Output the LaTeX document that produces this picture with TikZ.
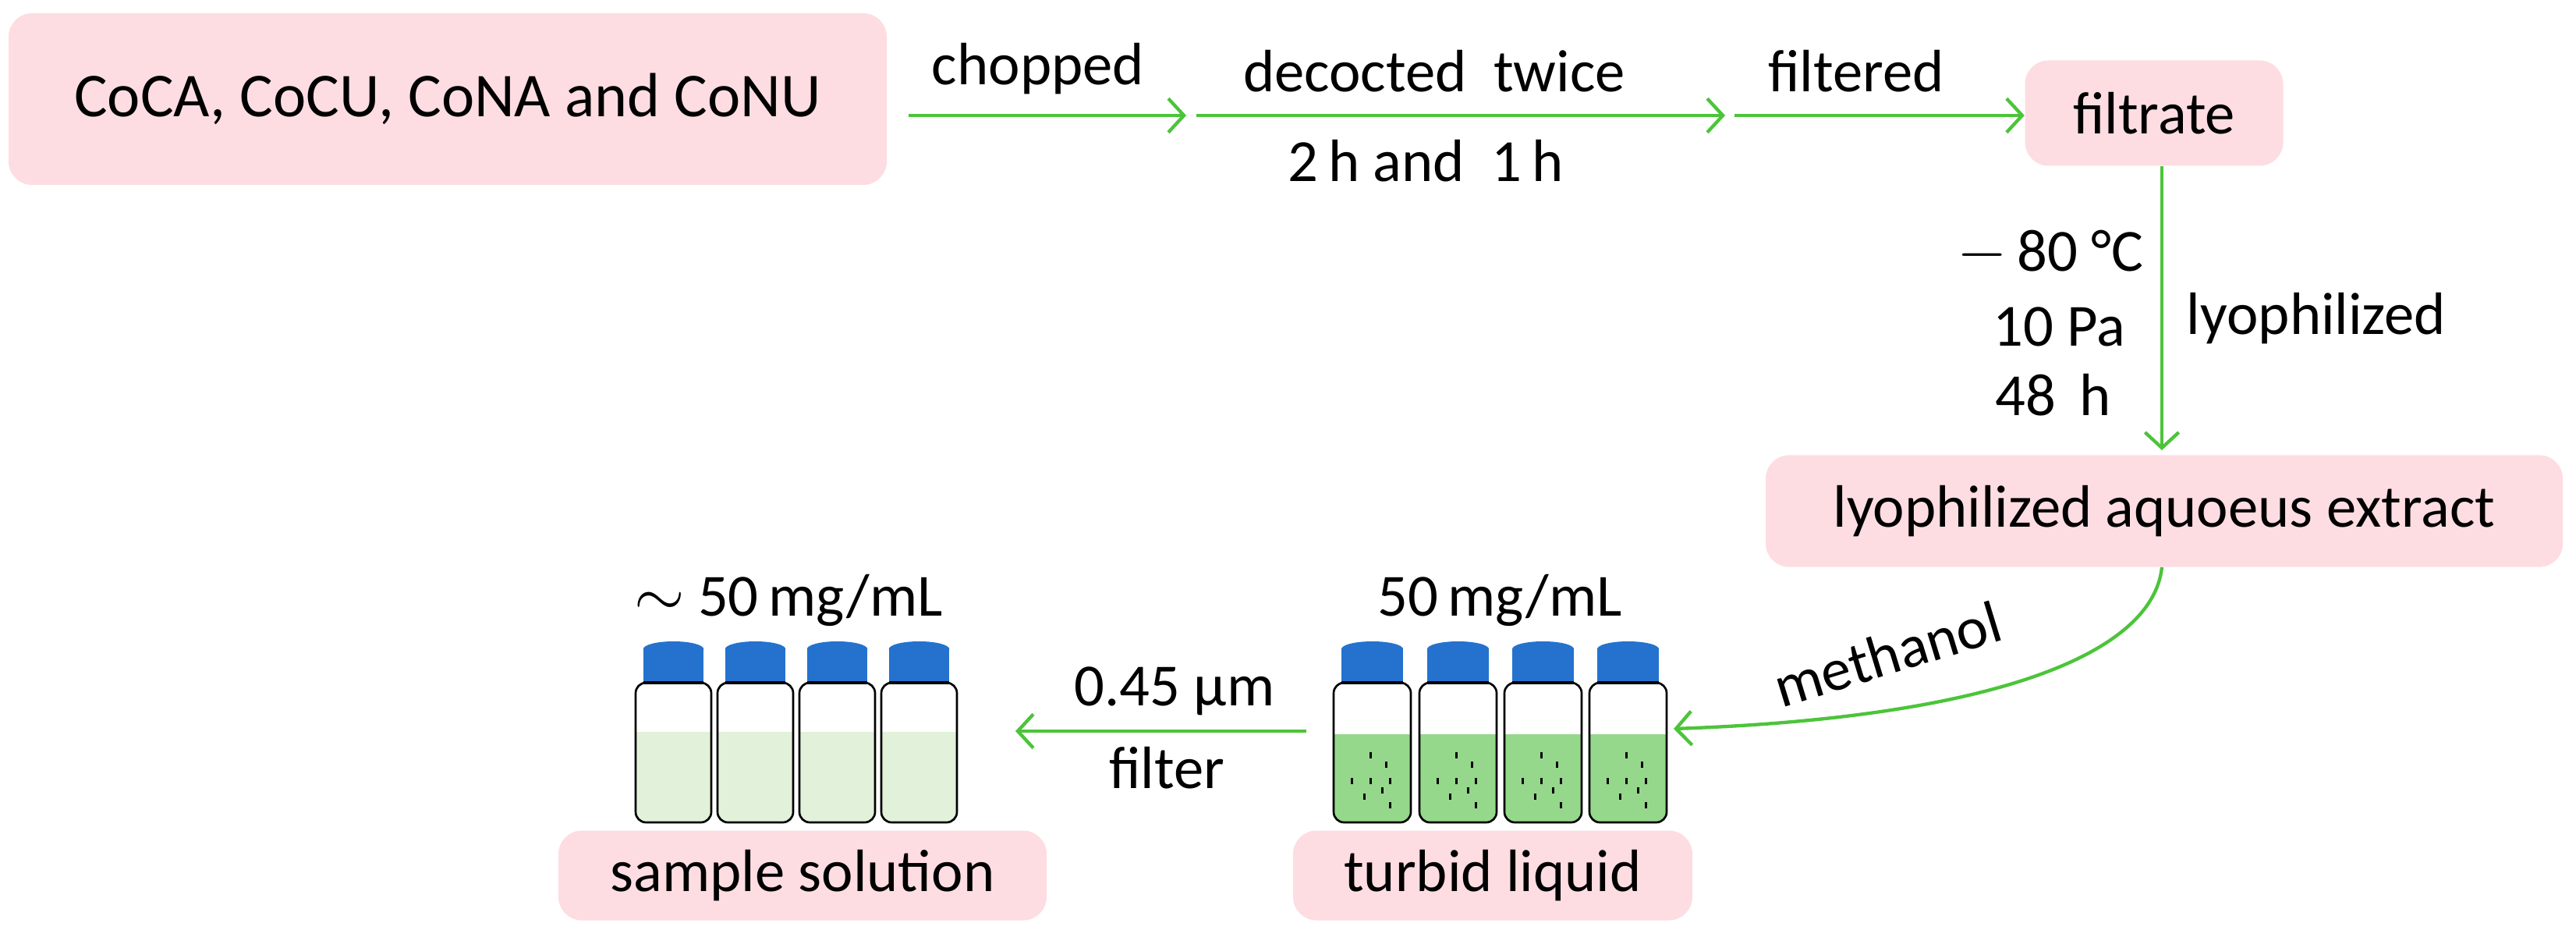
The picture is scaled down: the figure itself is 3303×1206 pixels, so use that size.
\documentclass[tikz,border=0pt]{standalone}
\usepackage{fontspec}
\setmainfont{Carlito}
\usetikzlibrary{arrows.meta}
\definecolor{boxpink}{HTML}{FDDDE2}
\definecolor{arrgreen}{HTML}{4CC43A}
\definecolor{capblue}{HTML}{2472CE}
\definecolor{liqdark}{HTML}{95D88B}
\definecolor{liqlight}{HTML}{E1F1DA}
\newcommand\myvial[4]{% x, width, liquid top, colour
  \begin{scope}
    \clip[rounded corners=4pt] (#1,875) rectangle ++(#2,179);
    \fill[#4] (#1,#3) rectangle (#1+#2,1054);
  \end{scope}
  \draw[line width=0.8pt,rounded corners=4pt] (#1,875) rectangle ++(#2,179);
  \fill[capblue] (#1+0.1*#2,832) rectangle (#1+0.9*#2,875);
  \fill[capblue] (#1+0.5*#2,832) ellipse [x radius=0.4*#2, y radius=10];
  \draw[line width=1pt] (#1+0.1*#2,875) -- (#1+0.9*#2,875);
}
\newcommand\mydots[1]{%
  \foreach \dx/\dy in {47/968,67/980,23/1001,47/1001,72/1001,62/1013,39/1021,72/1032}
    \fill (#1+\dx-1.5,\dy-4) rectangle ++(3,8);
}
\begin{document}
\begin{tikzpicture}[x=0.3pt,y=-0.3pt,
  box/.style={fill=boxpink,rounded corners=9pt,inner sep=0pt,font=\fontsize{23}{27}\selectfont},
  lab/.style={font=\fontsize{23}{27}\selectfont,inner sep=0pt},
  arr/.style={draw=arrgreen,line width=1.3pt,-{Straight Barb[length=6pt,width=13pt,line width=1.3pt]}}]
\useasboundingbox (0,0) rectangle (3303,1206);
\node[box,minimum width=337.8pt,minimum height=66pt,font=\fontsize{24}{28}\selectfont] (src) at (574,127) {CoCA, CoCU, CoNA and CoNU};
\node[box,minimum width=99.3pt,minimum height=40.5pt] (filt) at (2762,145) {filtrate};
\node[box,minimum width=306.6pt,minimum height=43pt] (lyo) at (2775,655) {lyophilized aquoeus extract};
\node[box,minimum width=153.6pt,minimum height=34.5pt] (turb) at (1914,1122) {turbid liquid};
\node[box,minimum width=187.8pt,minimum height=34.5pt] (samp) at (1029,1122) {sample solution};
\coordinate (a1) at (1165,148);
\coordinate (a2) at (1521,148);
\coordinate (a3) at (1534,148);
\coordinate (a4) at (2212,148);
\coordinate (a5) at (2224,148);
\draw[arr] (a1) -- (a2);
\draw[arr] (a3) -- (a4);
\draw[arr] (a5) -- (filt.west|-a5);
\node[lab] (l1) at (1331,88) {chopped};
\node[lab] (l2) at (1839,91) {decocted\ \ twice};
\node[lab] (l3) at (1828,206) {2\,h and\ \ 1\,h};
\node[lab] (l4) at (2380,91) {filtered};
\coordinate (v1) at (2772,213);
\coordinate (v2) at (2772,577);
\draw[arr] (v1) -- (v2);
\node[lab] (l5) at (2629,325) {$-$\,80 °C};
\node[lab] (l6) at (2640,419) {10 Pa};
\node[lab] (l7) at (2633,506) {48\ \,h};
\node[lab] (l8) at (2970,408) {lyophilized};
\coordinate (m0) at (2772,727);
\coordinate (m1) at (2146,934);
\draw[arr] (m0) .. controls (2760,840) and (2550,920) .. (m1);
\node[lab,rotate=17] (l9) at (2420,838) {methanol};
\coordinate (f0) at (1675,937);
\coordinate (f1) at (1302,937);
\draw[arr] (f0) -- (f1);
\node[lab] (l10) at (1506,886) {0.45 µm};
\node[lab] (l11) at (1496,984) {filter};
\node[lab] (l12) at (1923,769) {50\,mg/mL};
\node[lab] (l13) at (1011,769) {$\sim$ 50\,mg/mL};
\foreach \x in {1710,1820,1929,2038}{\myvial{\x}{99}{941}{liqdark}\mydots{\x}}
\foreach \x in {815,920,1025,1130}{\myvial{\x}{97}{938}{liqlight}}
\end{tikzpicture}
\end{document}
